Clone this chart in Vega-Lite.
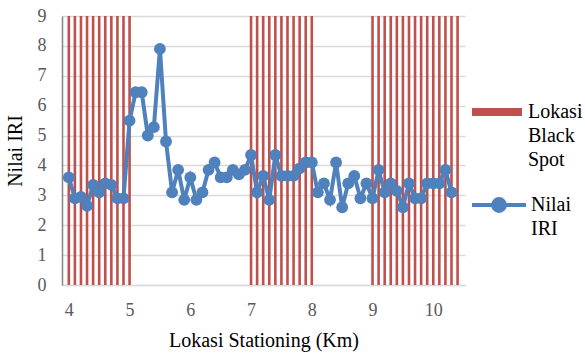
{
  "$schema": "https://vega.github.io/schema/vega-lite/v6.json",
  "autosize": "none",
  "padding": {"left": 62, "top": 16, "right": 120, "bottom": 69},
  "width": 403,
  "height": 269,
  "background": "white",
  "config": {
    "font": "serif",
    "view": {"stroke": null},
    "axis": {"titleFontWeight": "normal", "labelFont": "serif", "titleFont": "serif"},
    "legend": {"labelFont": "serif"}
  },
  "datasets": {
    "bs": [
      {"km": 4.0, "v": 9, "s": "Lokasi Black Spot"}, {"km": 4.1, "v": 9, "s": "Lokasi Black Spot"}, {"km": 4.2, "v": 9, "s": "Lokasi Black Spot"}, {"km": 4.3, "v": 9, "s": "Lokasi Black Spot"}, {"km": 4.4, "v": 9, "s": "Lokasi Black Spot"}, {"km": 4.5, "v": 9, "s": "Lokasi Black Spot"}, {"km": 4.6, "v": 9, "s": "Lokasi Black Spot"}, {"km": 4.7, "v": 9, "s": "Lokasi Black Spot"}, {"km": 4.8, "v": 9, "s": "Lokasi Black Spot"}, {"km": 4.9, "v": 9, "s": "Lokasi Black Spot"}, {"km": 5.0, "v": 9, "s": "Lokasi Black Spot"},
      {"km": 7.0, "v": 9, "s": "Lokasi Black Spot"}, {"km": 7.1, "v": 9, "s": "Lokasi Black Spot"}, {"km": 7.2, "v": 9, "s": "Lokasi Black Spot"}, {"km": 7.3, "v": 9, "s": "Lokasi Black Spot"}, {"km": 7.4, "v": 9, "s": "Lokasi Black Spot"}, {"km": 7.5, "v": 9, "s": "Lokasi Black Spot"}, {"km": 7.6, "v": 9, "s": "Lokasi Black Spot"}, {"km": 7.7, "v": 9, "s": "Lokasi Black Spot"}, {"km": 7.8, "v": 9, "s": "Lokasi Black Spot"}, {"km": 7.9, "v": 9, "s": "Lokasi Black Spot"}, {"km": 8.0, "v": 9, "s": "Lokasi Black Spot"},
      {"km": 9.0, "v": 9, "s": "Lokasi Black Spot"}, {"km": 9.1, "v": 9, "s": "Lokasi Black Spot"}, {"km": 9.2, "v": 9, "s": "Lokasi Black Spot"}, {"km": 9.3, "v": 9, "s": "Lokasi Black Spot"}, {"km": 9.4, "v": 9, "s": "Lokasi Black Spot"}, {"km": 9.5, "v": 9, "s": "Lokasi Black Spot"}, {"km": 9.6, "v": 9, "s": "Lokasi Black Spot"}, {"km": 9.7, "v": 9, "s": "Lokasi Black Spot"}, {"km": 9.8, "v": 9, "s": "Lokasi Black Spot"}, {"km": 9.9, "v": 9, "s": "Lokasi Black Spot"}, {"km": 10.0, "v": 9, "s": "Lokasi Black Spot"}, {"km": 10.1, "v": 9, "s": "Lokasi Black Spot"}, {"km": 10.2, "v": 9, "s": "Lokasi Black Spot"}, {"km": 10.3, "v": 9, "s": "Lokasi Black Spot"}, {"km": 10.4, "v": 9, "s": "Lokasi Black Spot"}
    ],
    "iri": [
      {"km": 4.0, "v": 3.6, "s": "Nilai IRI"}, {"km": 4.1, "v": 2.9, "s": "Nilai IRI"}, {"km": 4.2, "v": 2.95, "s": "Nilai IRI"}, {"km": 4.3, "v": 2.65, "s": "Nilai IRI"}, {"km": 4.4, "v": 3.35, "s": "Nilai IRI"}, {"km": 4.5, "v": 3.1, "s": "Nilai IRI"}, {"km": 4.6, "v": 3.4, "s": "Nilai IRI"}, {"km": 4.7, "v": 3.35, "s": "Nilai IRI"}, {"km": 4.8, "v": 2.9, "s": "Nilai IRI"}, {"km": 4.9, "v": 2.9, "s": "Nilai IRI"},
      {"km": 5.0, "v": 5.5, "s": "Nilai IRI"}, {"km": 5.1, "v": 6.45, "s": "Nilai IRI"}, {"km": 5.2, "v": 6.45, "s": "Nilai IRI"}, {"km": 5.3, "v": 5.0, "s": "Nilai IRI"}, {"km": 5.4, "v": 5.28, "s": "Nilai IRI"}, {"km": 5.5, "v": 7.9, "s": "Nilai IRI"}, {"km": 5.6, "v": 4.8, "s": "Nilai IRI"}, {"km": 5.7, "v": 3.1, "s": "Nilai IRI"}, {"km": 5.8, "v": 3.85, "s": "Nilai IRI"}, {"km": 5.9, "v": 2.85, "s": "Nilai IRI"},
      {"km": 6.0, "v": 3.6, "s": "Nilai IRI"}, {"km": 6.1, "v": 2.85, "s": "Nilai IRI"}, {"km": 6.2, "v": 3.1, "s": "Nilai IRI"}, {"km": 6.3, "v": 3.85, "s": "Nilai IRI"}, {"km": 6.4, "v": 4.1, "s": "Nilai IRI"}, {"km": 6.5, "v": 3.6, "s": "Nilai IRI"}, {"km": 6.6, "v": 3.6, "s": "Nilai IRI"}, {"km": 6.7, "v": 3.85, "s": "Nilai IRI"}, {"km": 6.8, "v": 3.7, "s": "Nilai IRI"}, {"km": 6.9, "v": 3.85, "s": "Nilai IRI"},
      {"km": 7.0, "v": 4.35, "s": "Nilai IRI"}, {"km": 7.1, "v": 3.1, "s": "Nilai IRI"}, {"km": 7.2, "v": 3.65, "s": "Nilai IRI"}, {"km": 7.3, "v": 2.85, "s": "Nilai IRI"}, {"km": 7.4, "v": 4.35, "s": "Nilai IRI"}, {"km": 7.5, "v": 3.65, "s": "Nilai IRI"}, {"km": 7.6, "v": 3.65, "s": "Nilai IRI"}, {"km": 7.7, "v": 3.65, "s": "Nilai IRI"}, {"km": 7.8, "v": 3.9, "s": "Nilai IRI"}, {"km": 7.9, "v": 4.1, "s": "Nilai IRI"},
      {"km": 8.0, "v": 4.1, "s": "Nilai IRI"}, {"km": 8.1, "v": 3.1, "s": "Nilai IRI"}, {"km": 8.2, "v": 3.4, "s": "Nilai IRI"}, {"km": 8.3, "v": 2.85, "s": "Nilai IRI"}, {"km": 8.4, "v": 4.1, "s": "Nilai IRI"}, {"km": 8.5, "v": 2.6, "s": "Nilai IRI"}, {"km": 8.6, "v": 3.4, "s": "Nilai IRI"}, {"km": 8.7, "v": 3.65, "s": "Nilai IRI"}, {"km": 8.8, "v": 2.9, "s": "Nilai IRI"}, {"km": 8.9, "v": 3.4, "s": "Nilai IRI"},
      {"km": 9.0, "v": 2.9, "s": "Nilai IRI"}, {"km": 9.1, "v": 3.85, "s": "Nilai IRI"}, {"km": 9.2, "v": 3.1, "s": "Nilai IRI"}, {"km": 9.3, "v": 3.4, "s": "Nilai IRI"}, {"km": 9.4, "v": 3.15, "s": "Nilai IRI"}, {"km": 9.5, "v": 2.6, "s": "Nilai IRI"}, {"km": 9.6, "v": 3.4, "s": "Nilai IRI"}, {"km": 9.7, "v": 2.9, "s": "Nilai IRI"}, {"km": 9.8, "v": 2.9, "s": "Nilai IRI"}, {"km": 9.9, "v": 3.4, "s": "Nilai IRI"},
      {"km": 10.0, "v": 3.4, "s": "Nilai IRI"}, {"km": 10.1, "v": 3.4, "s": "Nilai IRI"}, {"km": 10.2, "v": 3.85, "s": "Nilai IRI"}, {"km": 10.3, "v": 3.1, "s": "Nilai IRI"}
    ]
  },
  "encoding": {
    "x": {
      "field": "km", "type": "quantitative",
      "scale": {"domain": [3.97, 10.44], "nice": false, "zero": false},
      "axis": {
        "values": [4, 5, 6, 7, 8, 9, 10], "format": "d", "grid": false, "ticks": false, "labelOverlap": false,
        "labelFontSize": 18, "labelColor": "#595959", "labelPadding": 16,
        "domainColor": "#d9d9d9", "domainWidth": 1.5,
        "title": "Lokasi Stationing (Km)", "titleFontSize": 20, "titleColor": "#000000", "titlePadding": 11
      }
    },
    "y": {
      "field": "v", "type": "quantitative",
      "scale": {"domain": [0, 9], "nice": false},
      "axis": {
        "values": [0, 1, 2, 3, 4, 5, 6, 7, 8, 9], "ticks": false, "labelOverlap": false,
        "labelFontSize": 18, "labelColor": "#595959", "labelPadding": 16,
        "gridColor": "#d9d9d9", "gridWidth": 1.5,
        "domainColor": "#868686", "domainWidth": 1.5,
        "title": "Nilai IRI", "titleFontSize": 20, "titleColor": "#000000", "titlePadding": 12
      }
    }
  },
  "layer": [
    {
      "data": {"name": "bs"},
      "mark": {"type": "bar", "size": 2.6},
      "encoding": {
        "fill": {
          "field": "s", "type": "nominal",
          "scale": {"domain": ["Lokasi Black Spot"], "range": ["#C0504D"]},
          "legend": {
            "title": null, "orient": "none", "legendX": 410, "legendY": 71, "padding": 0,
            "symbolType": "M-1,-0.16H1V0.16H-1Z", "symbolSize": 2500, "symbolStrokeWidth": 0,
            "labelFontSize": 20, "labelColor": "#000000", "labelOffset": 6, "labelBaseline": "middle", "labelLimit": 200,
            "labelExpr": "['Lokasi', 'Black', 'Spot']",
            "encode": {"labels": {"update": {"lineHeight": {"value": 24}}}}
          }
        }
      }
    },
    {
      "data": {"name": "iri"},
      "mark": {"type": "line", "strokeWidth": 4},
      "encoding": {
        "stroke": {
          "field": "s", "type": "nominal",
          "scale": {"domain": ["Nilai IRI"], "range": ["#4F81BD"]},
          "legend": {
            "title": null, "orient": "none", "legendX": 408, "legendY": 160, "padding": 0,
            "symbolType": "M-1,0H1M0.22,0A0.22,0.22 0 1,1 -0.22,0A0.22,0.22 0 1,1 0.22,0Z",
            "symbolSize": 2916, "symbolStrokeWidth": 4, "symbolFillColor": "#4F81BD",
            "labelFontSize": 20, "labelColor": "#000000", "labelOffset": 3, "labelBaseline": "middle", "labelLimit": 200,
            "labelExpr": "['Nilai', 'IRI']",
            "encode": {"labels": {"update": {"lineHeight": {"value": 24}}}}
          }
        }
      }
    },
    {
      "data": {"name": "iri"},
      "mark": {"type": "point", "filled": true, "size": 140, "color": "#4F81BD", "opacity": 1}
    }
  ]
}
